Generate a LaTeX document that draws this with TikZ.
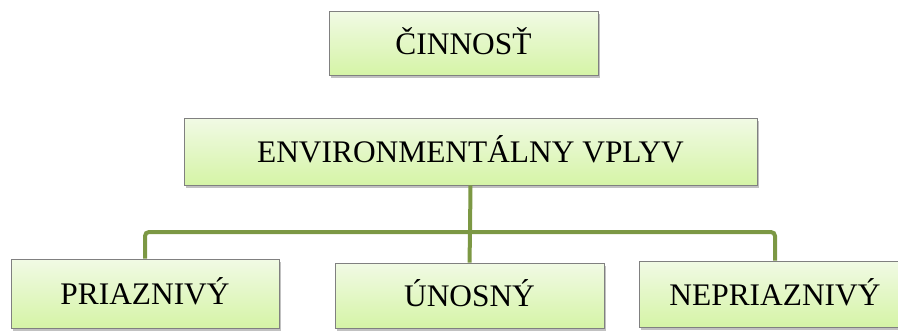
\documentclass[tikz,border=0pt]{standalone}
\usepackage{fontspec}
\setmainfont{Liberation Serif}
\usepackage{tikz}
\usetikzlibrary{shadows}
\usetikzlibrary{positioning}
\definecolor{boxtop}{RGB}{241,250,229}
\definecolor{boxbottom}{RGB}{213,244,166}
\definecolor{linkgreen}{RGB}{124,152,68}

\begin{document}
\begin{tikzpicture}[x=1pt,y=-1pt,
    box node/.style={rectangle,draw=gray,line width=0.8pt,top color=boxtop,bottom color=boxbottom,
      drop shadow={shadow xshift=2pt,shadow yshift=-3pt,opacity=0.35,fill=black!70},
      font=\fontsize{31.4}{36}\selectfont,text height=22pt,text depth=0pt,inner sep=0pt},
    link/.style={-,line width=4pt,color=linkgreen,rounded corners=4pt}]
   \useasboundingbox (0,0) rectangle (898,330);
   \clip (0,0) rectangle (898,330);
   \begin{scope}
      \node[box node,minimum width=269pt,minimum height=64pt] (act) at (463.5,43) {ČINNOSŤ};
      \node[box node,minimum width=573pt,minimum height=67pt] (env) at (470.5,151.5) {ENVIRONMENTÁLNY VPLYV};
      % impact levels
      \node[box node,minimum width=268pt,minimum height=69pt] (pri) at (145,293.5) {PRIAZNIVÝ};
      \node[box node,minimum width=269pt,minimum height=65pt] (uno) at (469.5,295.5) {ÚNOSNÝ};
      \node[box node,minimum width=272pt,minimum height=66pt] (nep) at (775,294) {NEPRIAZNIVÝ};
      \coordinate (bar) at (470,232);
       \path[link] (env.south) edge (bar);
       \draw[link] (pri.north) |- (bar) -| (nep.north);
       \path[link] (bar) edge (uno.north);
    \end{scope}
  \end{tikzpicture}
\end{document}
